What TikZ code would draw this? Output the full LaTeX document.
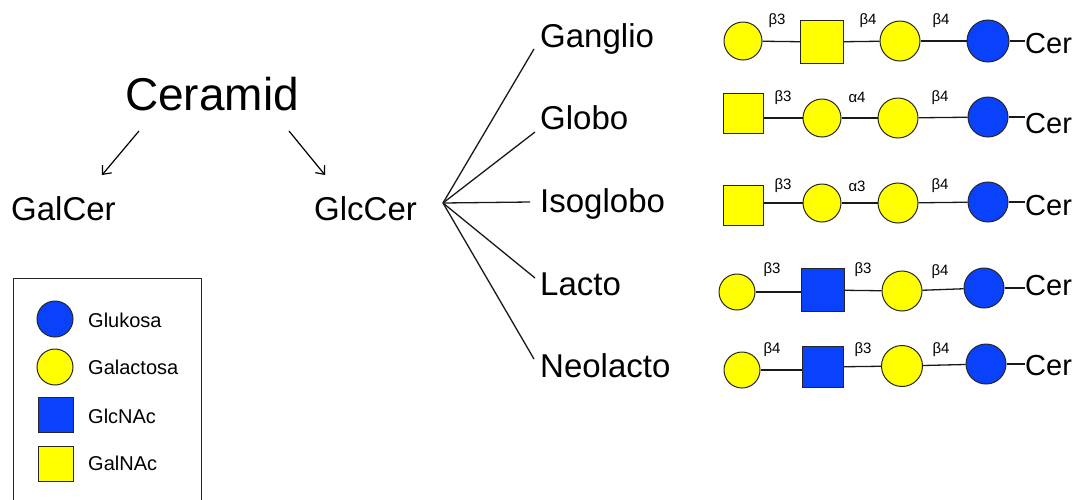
\documentclass[tikz,border=0pt]{standalone}
\usepackage{fontspec}
\setmainfont{Liberation Sans}
\usetikzlibrary{arrows.meta}
\definecolor{glcblue}{RGB}{10,65,250}
\definecolor{galyellow}{RGB}{255,255,0}
\begin{document}
\begin{tikzpicture}[x=1pt,y=-1pt,
  line/.style={line width=1.3pt,black!90},
  glc/.style={circle,draw=black!85,line width=1pt,fill=glcblue,minimum size=40pt,inner sep=0pt},
  gal/.style={circle,draw=black!85,line width=1pt,fill=galyellow,minimum size=38pt,inner sep=0pt},
  glcnac/.style={rectangle,draw=black!85,line width=1pt,fill=glcblue,minimum size=42pt,inner sep=0pt},
  galnac/.style={rectangle,draw=black!85,line width=1pt,fill=galyellow,minimum size=41pt,inner sep=0pt},
  big/.style={font=\fontsize{46}{50}\selectfont,inner sep=0pt},
  mid/.style={font=\fontsize{33}{38}\selectfont,inner sep=0pt,anchor=base west},
  cer/.style={font=\fontsize{29}{33}\selectfont,inner sep=0pt,anchor=base west},
  link/.style={font=\fontsize{15}{17}\selectfont,inner sep=0pt},
  leg/.style={font=\fontsize{20}{24}\selectfont,inner sep=0pt,anchor=base west},
  arr/.style={line width=1.2pt,-{Straight Barb[length=7pt,width=12pt]}}]
\useasboundingbox (0,0) rectangle (1081,499);

% left tree
\node[big,anchor=base] (ceramid) at (212,110) {Ceramid};
\node[mid] (galcer) at (11,220) {GalCer};
\node[mid] (glccer) at (314,220) {GlcCer};
\coordinate (a1s) at (139,131); \coordinate (a1e) at (102,175);
\coordinate (a2s) at (289,131); \coordinate (a2e) at (325,175);
\draw[arr] (a1s) -- (a1e);
\draw[arr] (a2s) -- (a2e);

% fan
\coordinate (fan) at (443,203);
\node[mid] (ganglio) at (540,47) {Ganglio};
\node[mid] (globo) at (540,129) {Globo};
\node[mid] (isoglobo) at (540,212) {Isoglobo};
\node[mid] (lacto) at (540,295) {Lacto};
\node[mid] (neolacto) at (540,377) {Neolacto};
\coordinate (e1) at (534,49);
\coordinate (e2) at (535,132);
\coordinate (e3) at (530,202);
\coordinate (e4) at (535,278);
\coordinate (e5) at (534,359);
\foreach \e in {e1,e2,e3,e4,e5} \draw[line] (fan) -- (\e);

% row 1 Ganglio
\node[gal,minimum size=38pt] (r1a) at (743,41) {};
\node[galnac,minimum size=43pt] (r1b) at (822,42) {};
\node[gal,minimum size=40pt] (r1c) at (900,41) {};
\node[glc,minimum size=42pt] (r1d) at (988,41) {};
\node[cer] (r1e) at (1025,53) {Cer};
\draw[line] (r1a) -- (r1b); \draw[line] (r1b) -- (r1c); \draw[line] (r1c) -- (r1d);
\draw[line] (r1d.east) -- (r1d.east -| r1e.west);
\node[link] (l11) at (777,21) {β3};
\node[link] (l12) at (868,21) {β4};
\node[link] (l13) at (941,21) {β4};

% row 2 Globo
\node[galnac,minimum size=40pt] (r2a) at (743,113) {};
\node[gal,minimum size=38pt] (r2b) at (822,118) {};
\node[gal,minimum size=40pt] (r2c) at (898,118) {};
\node[glc] (r2d) at (988,117) {};
\node[cer] (r2e) at (1025,133) {Cer};
\draw[line] (r2a.east |- r2b) -- (r2b); \draw[line] (r2b) -- (r2c); \draw[line] (r2c) -- (r2d);
\draw[line] (r2d.east) -- (r2d.east -| r2e.west);
\node[link] (l21) at (783,98) {β3};
\node[link] (l22) at (857,97) {α4};
\node[link] (l23) at (940,98) {β4};

% row 3 Isoglobo
\node[galnac,minimum size=40pt] (r3a) at (743,205) {};
\node[gal,minimum size=38pt] (r3b) at (822,203) {};
\node[gal,minimum size=40pt] (r3c) at (898,203) {};
\node[glc] (r3d) at (988,202) {};
\node[cer] (r3e) at (1025,215) {Cer};
\draw[line] (r3a.east |- r3b) -- (r3b); \draw[line] (r3b) -- (r3c); \draw[line] (r3c) -- (r3d);
\draw[line] (r3d.east) -- (r3d.east -| r3e.west);
\node[link] (l31) at (783,186) {β3};
\node[link] (l32) at (857,186) {α3};
\node[link] (l33) at (940,186) {β4};

% row 4 Lacto
\node[gal,minimum size=36pt] (r4a) at (737,292) {};
\node[glcnac,minimum size=43pt] (r4b) at (823,290) {};
\node[gal,minimum size=40pt] (r4c) at (902,291) {};
\node[glc] (r4d) at (984,288) {};
\node[cer] (r4e) at (1025,295) {Cer};
\draw[line] (r4a) -- (r4b.west |- r4a); \draw[line] (r4b) -- (r4c); \draw[line] (r4c) -- (r4d);
\draw[line] (r4d.east) -- (r4d.east -| r4e.west);
\node[link] (l41) at (772,270) {β3};
\node[link] (l42) at (863,270) {β3};
\node[link] (l43) at (940,272) {β4};

% row 5 Neolacto
\node[gal,minimum size=36pt] (r5a) at (742,370) {};
\node[glcnac,minimum size=41pt] (r5b) at (823,367) {};
\node[gal,minimum size=41pt] (r5c) at (902,366) {};
\node[glc] (r5d) at (986,364) {};
\node[cer] (r5e) at (1025,375) {Cer};
\draw[line] (r5a) -- (r5b.west |- r5a); \draw[line] (r5b) -- (r5c); \draw[line] (r5c) -- (r5d);
\draw[line] (r5d.east) -- (r5d.east -| r5e.west);
\node[link] (l51) at (772,350) {β4};
\node[link] (l52) at (863,350) {β3};
\node[link] (l53) at (941,350) {β4};

% legend
\draw[line width=1pt,black!85] (13,505) -- (13,278) -- (201,278) -- (201,505);
\node[glc,minimum size=36pt] (k1) at (55,319) {};
\node[gal,minimum size=36pt] (k2) at (55,367) {};
\node[glcnac,minimum size=35pt] (k3) at (56,415) {};
\node[galnac,minimum size=35pt] (k4) at (56,464) {};
\node[leg] (t1) at (88,327) {Glukosa};
\node[leg] (t2) at (88,374) {Galactosa};
\node[leg] (t3) at (88,423) {GlcNAc};
\node[leg] (t4) at (88,470) {GalNAc};
\end{tikzpicture}
\end{document}
